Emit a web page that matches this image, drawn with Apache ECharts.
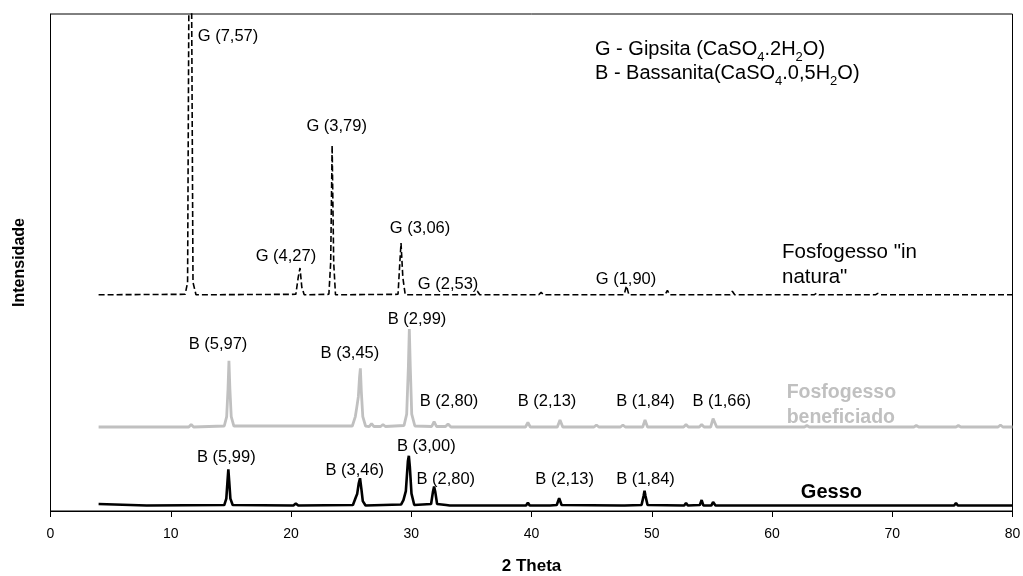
<!DOCTYPE html>
<html>
<head>
<meta charset="utf-8">
<script src="https://cdn.jsdelivr.net/npm/echarts@6/dist/echarts.min.js"></script>
<style>
html,body{margin:0;padding:0;background:#fff;}
#c{width:1023px;height:576px;}
</style>
</head>
<body>
<div id="c"></div>
<script>
// X ticks
const xTicks = [0, 10, 20, 30, 40, 50, 60, 70, 80];

// Fosfogesso "in natura" (offset pattern, dashed)
const naturaX = [4.0, 11.2, 11.4, 11.52, 11.72, 11.85, 12.1, 20.4, 20.6, 20.75, 20.9, 21.1, 23.15, 23.3, 23.42, 23.55, 23.7, 28.9, 29.05, 29.15, 29.3, 29.5, 35.3, 35.5, 35.7, 40.6, 40.8, 41.0, 47.7, 47.9, 48.1, 51.1, 51.3, 51.5, 56.5, 56.7, 56.9, 63.5, 63.7, 63.9, 68.6, 68.8, 69.0, 80.0];
const naturaY = [43.5, 43.6, 46.0, 110, 110, 46.0, 43.5, 43.6, 47.0, 48.9, 45.0, 43.5, 43.6, 50.0, 73.6, 50.0, 43.5, 43.6, 50.0, 53.9, 47.0, 43.5, 43.5, 44.2, 43.5, 43.5, 44.0, 43.5, 43.5, 45.3, 43.5, 43.5, 44.4, 43.5, 43.5, 44.2, 43.5, 43.5, 43.8, 43.5, 43.5, 43.8, 43.5, 43.5];

// Fosfogesso beneficiado (grey)
const benefX = [4.0, 11.5, 11.7, 11.9, 14.45, 14.65, 14.76, 14.84, 14.92, 15.03, 15.25, 25.1, 25.35, 25.46, 25.6, 25.7, 25.77, 25.85, 25.97, 26.2, 26.5, 26.7, 26.9, 27.45, 27.65, 27.85, 29.4, 29.62, 29.76, 29.84, 29.92, 30.04, 30.3, 31.7, 31.9, 32.1, 32.85, 33.06, 33.3, 39.5, 39.7, 39.9, 42.15, 42.37, 42.6, 45.2, 45.4, 45.6, 47.4, 47.6, 47.8, 49.25, 49.44, 49.65, 52.65, 52.85, 53.05, 53.95, 54.15, 54.35, 54.9, 55.1, 55.4, 62.7, 62.9, 63.1, 71.8, 72.0, 72.2, 75.3, 75.5, 75.7, 78.8, 79.0, 79.2, 80.0];
const benefY = [16.9, 16.9, 17.4, 16.9, 17.1, 19.0, 24.5, 30.2, 24.5, 19.0, 17.1, 17.1, 19.0, 20.7, 23.0, 27.0, 28.7, 24.0, 19.0, 17.1, 17.0, 17.6, 17.0, 17.0, 17.4, 17.0, 17.2, 19.5, 29.0, 36.6, 29.0, 19.5, 17.1, 17.0, 18.0, 17.0, 17.0, 17.5, 16.9, 16.9, 17.8, 16.9, 16.9, 18.3, 16.9, 16.9, 17.3, 16.9, 16.9, 17.3, 16.9, 16.9, 18.3, 16.9, 16.9, 17.4, 16.9, 16.9, 17.4, 16.9, 16.9, 18.6, 16.9, 16.9, 17.2, 16.9, 16.9, 17.2, 16.9, 16.9, 17.2, 16.9, 16.9, 17.3, 16.9, 16.9];

// Gesso (black)
const gessoX = [4.0, 8.0, 14.45, 14.62, 14.72, 14.79, 14.86, 14.96, 15.15, 20.2, 20.4, 20.6, 25.15, 25.4, 25.5, 25.63, 25.74, 25.85, 25.97, 26.2, 29.15, 29.35, 29.55, 29.72, 29.8, 29.88, 30.02, 30.25, 31.65, 31.8, 31.9, 32.0, 32.15, 32.9, 33.0, 33.2, 38.4, 38.55, 38.7, 39.55, 39.7, 39.85, 41.25, 41.4, 41.55, 42.1, 42.3, 42.5, 47.45, 47.6, 47.75, 49.15, 49.32, 49.4, 49.48, 49.65, 52.7, 52.85, 53.0, 54.0, 54.15, 54.3, 54.95, 55.1, 55.3, 62.95, 63.1, 63.25, 72.55, 72.7, 72.85, 75.15, 75.3, 75.45, 76.95, 77.1, 77.25, 80.0];
const gessoY = [1.4, 1.1, 1.2, 2.5, 6.0, 8.4, 6.0, 2.5, 1.2, 1.1, 1.5, 1.1, 1.2, 2.8, 3.4, 5.5, 6.6, 4.5, 2.0, 1.1, 1.3, 2.2, 4.0, 10.0, 11.1, 9.0, 3.5, 1.2, 1.4, 3.8, 4.9, 3.8, 1.4, 1.2, 1.6, 1.1, 1.1, 1.5, 1.1, 1.1, 1.7, 1.1, 1.1, 1.4, 1.1, 1.2, 2.6, 1.2, 1.1, 1.5, 1.1, 1.2, 3.0, 4.1, 3.0, 1.2, 1.1, 1.6, 1.1, 1.2, 2.2, 1.1, 1.1, 1.8, 1.1, 1.1, 1.5, 1.1, 1.1, 1.5, 1.1, 1.1, 1.6, 1.1, 1.1, 1.4, 1.1, 1.1];

// Peak labels
const peakLabelText = ["G (7,57)", "G (3,79)", "G (4,27)", "G (3,06)", "G (2,53)", "G (1,90)",
  "B (5,97)", "B (3,45)", "B (2,99)", "B (2,80)", "B (2,13)", "B (1,84)", "B (1,66)",
  "B (5,99)", "B (3,46)", "B (3,00)", "B (2,80)", "B (2,13)", "B (1,84)"];
const peakLabelX = [14.76, 23.8, 19.58, 30.73, 33.06, 47.86,
  13.93, 24.9, 30.48, 33.14, 41.29, 49.48, 55.82,
  14.62, 25.3, 31.25, 32.87, 42.76, 49.48];
const peakLabelY = [95.4, 77.3, 51.2, 56.9, 45.5, 46.5,
  33.6, 31.7, 38.6, 22.0, 22.0, 22.0, 22.0,
  10.8, 8.25, 12.9, 6.4, 6.4, 6.4];

// Sample names
const sampleNames = ['Fosfogesso "in\nnatura"', 'Fosfogesso\nbeneficiado', 'Gesso'];
const sampleNameX = [60.83, 61.22, 62.4];
const sampleNameY = [49.5, 21.4, 3.8];

function zip(xs, ys) { return xs.map((x, i) => [x, ys[i]]); }

const font = '"Liberation Sans", Arial, sans-serif';

const chart = echarts.init(document.getElementById('c'), null, { renderer: 'canvas' });

const labelData = peakLabelText.map((t, i) => [peakLabelX[i], peakLabelY[i], t]);

const sampleStyles = [
  { color: '#000', fontWeight: 'normal', fontSize: 20.5 },
  { color: '#c0c0c0', fontWeight: 'bold', fontSize: 19.5 },
  { color: '#000', fontWeight: 'bold', fontSize: 20 }
];
const sampleData = sampleNames.map((t, i) => ({
  value: [sampleNameX[i], sampleNameY[i], t],
  label: Object.assign({}, sampleStyles[i])
}));

chart.setOption({
  animation: false,
  backgroundColor: '#fff',
  grid: { left: 50.5, right: 10.5, top: 14, bottom: 65, outerBoundsMode: 'none', containLabel: false,
    show: true, borderColor: '#000', borderWidth: 1, backgroundColor: 'transparent' },
  xAxis: {
    type: 'value', min: 0, max: 80, interval: 10,
    name: '2 Theta', nameLocation: 'middle', nameGap: 47,
    nameTextStyle: { fontFamily: font, fontSize: 17, fontWeight: 'bold', color: '#000' },
    axisLine: { show: true, onZero: false, lineStyle: { color: '#000', width: 1 } },
    axisTick: { show: true, inside: false, length: 6, lineStyle: { color: '#000' } },
    axisLabel: { fontFamily: font, fontSize: 14, color: '#000', margin: 16,
      formatter: v => (xTicks.indexOf(v) >= 0 ? String(v) : '') },
    splitLine: { show: false }
  },
  yAxis: {
    type: 'value', min: 0, max: 100,
    name: 'Intensidade', nameLocation: 'middle', nameGap: 23,
    nameTextStyle: { fontFamily: font, fontSize: 16, fontWeight: 'bold', color: '#000' },
    axisLine: { show: true, lineStyle: { color: '#000' } },
    axisTick: { show: false }, axisLabel: { show: false }, splitLine: { show: false }
  },
  graphic: [{
    type: 'text', left: 595, top: 39, silent: true,
    style: {
      text: '{n|G - Gipsita (CaSO}{s|4}{n|.2H}{s|2}{n|O)}\n{n|B - Bassanita(CaSO}{s|4}{n|.0,5H}{s|2}{n|O)}',
      rich: {
        n: { fontFamily: font, fontSize: 20, fill: '#000', lineHeight: 24, verticalAlign: 'bottom' },
        s: { fontFamily: font, fontSize: 13, fill: '#000', lineHeight: 24, verticalAlign: 'bottom', padding: [0, 0, -5, 0] }
      }
    }
  }],
  series: [
    {
      type: 'line', name: 'natura', data: zip(naturaX, naturaY), showSymbol: false, symbol: 'none',
      lineStyle: { color: '#000', width: 1.6, type: [6, 3] }, clip: true, z: 3
    },
    {
      type: 'line', name: 'benef', data: zip(benefX, benefY), showSymbol: false, symbol: 'none',
      lineStyle: { color: '#c0c0c0', width: 2.8 }, clip: true, z: 2
    },
    {
      type: 'line', name: 'gesso', data: zip(gessoX, gessoY), showSymbol: false, symbol: 'none',
      lineStyle: { color: '#000', width: 2.6 }, clip: true, z: 4
    },
    {
      type: 'scatter', data: labelData, symbolSize: 0, silent: true, z: 5,
      itemStyle: { opacity: 1 },
      label: { show: true, position: [0, 0], align: 'center', verticalAlign: 'middle', opacity: 1,
        formatter: p => p.data[2], fontFamily: font, fontSize: 16.5, color: '#000', textBorderWidth: 0 }
    },
    {
      type: 'scatter', data: sampleData, symbolSize: 0, silent: true, z: 5,
      itemStyle: { opacity: 1 },
      label: { show: true, position: [0, 0], align: 'left', verticalAlign: 'middle', lineHeight: 25, opacity: 1,
        formatter: p => p.value[2], fontFamily: font, textBorderWidth: 0 }
    }
  ]
});
</script>
</body>
</html>
